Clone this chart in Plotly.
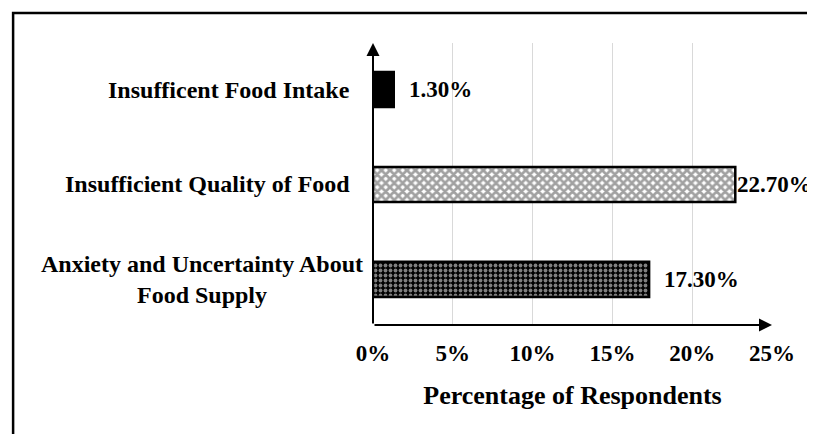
import plotly.graph_objects as go

categories = ["Anxiety and Uncertainty About<br>Food Supply",
              "Insufficient Quality of Food",
              "Insufficent Food Intake"]
values = [17.3, 22.7, 1.3]
value_labels = ["17.30%", "22.70%", "1.30%"]
x_ticks = [0, 5, 10, 15, 20, 25]
x_tick_labels = ["0%", "5%", "10%", "15%", "20%", "25%"]

FONT = "Liberation Serif"

fig = go.Figure()
fig.add_trace(go.Bar(
    y=list(range(len(categories))),
    x=values,
    orientation="h",
    width=0.37,
    marker=dict(
        color=["black", "white", "black"],
        line=dict(color="black", width=2.5),
        pattern=dict(
            shape=[".", "x", ""],
            fgcolor=["#e6e6e6", "#333333", "black"],
            bgcolor=["black", "white", "black"],
            size=[5, 6, 5],
            solidity=[0.45, 0.7, 0.3],
        ),
    ),
    showlegend=False,
    hoverinfo="skip",
))

annotations = []
# value labels
shifts = [13, 0, 13]
for i, (v, lab) in enumerate(zip(values, value_labels)):
    annotations.append(dict(
        x=v, y=i, xref="x", yref="y", text=lab, showarrow=False,
        xanchor="left", yanchor="middle", xshift=shifts[i],
        font=dict(family=FONT, size=23, color="black", weight="bold"),
    ))
# category labels
cat_shift = [-8, -21, -21]
for i, c in enumerate(categories):
    annotations.append(dict(
        x=0, y=i, xref="paper", yref="y", text=c, showarrow=False,
        xanchor="right", yanchor="middle", align="center", xshift=cat_shift[i],
        font=dict(family=FONT, size=24, color="black", weight="bold"),
    ))
# axis arrows
annotations.append(dict(
    x=1.0, y=0, xref="x domain", yref="y domain",
    ax=0, ay=0, axref="x domain", ayref="y domain",
    text="", showarrow=True, arrowhead=2, arrowsize=1.3, arrowwidth=2,
    arrowcolor="black", standoff=0,
))
annotations.append(dict(
    x=0, y=1.0, xref="x domain", yref="y domain",
    ax=0, ay=0, axref="x domain", ayref="y domain",
    text="", showarrow=True, arrowhead=2, arrowsize=1.3, arrowwidth=2,
    arrowcolor="black", standoff=0,
))

fig.update_layout(
    width=815, height=434,
    margin=dict(l=365, r=51, t=35, b=117),
    paper_bgcolor="white", plot_bgcolor="white",
    annotations=annotations,
    shapes=[dict(
        type="rect", xref="paper", yref="paper",
        x0=-0.902, x1=1.25, y0=-0.45, y1=1.106,
        line=dict(color="black", width=2.5), fillcolor="rgba(0,0,0,0)",
        layer="above",
    )],
    xaxis=dict(
        range=[0, 25], tickvals=x_ticks, ticktext=x_tick_labels,
        showgrid=True, gridcolor="#d9d9d9", gridwidth=1,
        zeroline=False, showline=False, ticks="",
        tickfont=dict(family=FONT, size=23, color="black", weight="bold"),
        ticklabelstandoff=12,
        title=dict(text="Percentage of Respondents", standoff=20,
                   font=dict(family=FONT, size=26, color="black", weight="bold")),
        fixedrange=True,
    ),
    yaxis=dict(
        range=[-0.48, 2.49], showticklabels=False, showgrid=False,
        zeroline=False, showline=False, ticks="", fixedrange=True,
    ),
)

fig.write_html("out.html")
